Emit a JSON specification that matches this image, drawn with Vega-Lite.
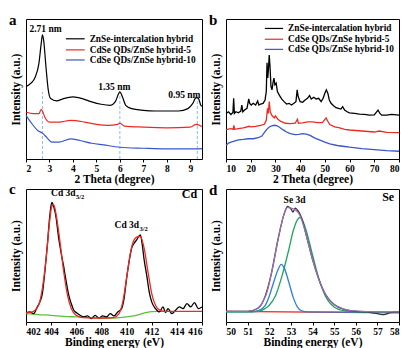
{
"$schema": "https://vega.github.io/schema/vega-lite/v6.json",
"background": "white",
"padding": {"left": 8, "top": 12, "right": 4, "bottom": 2},
"config": {
 "view": {"stroke": "black", "strokeWidth": 1},
 "font": "Liberation Serif",
 "axis": {"labelFont": "Liberation Serif", "labelFontWeight": "bold", "labelFontSize": 9.5, "labelColor": "black", "titleFont": "Liberation Serif", "titleFontWeight": "bold", "titleFontSize": 11.5, "titleColor": "black", "tickColor": "black", "grid": false},
 "axisY": {"labels": false, "ticks": false, "domain": false, "titlePadding": 5},
 "axisX": {"domain": false, "tickSize": 3, "labelPadding": 1, "titlePadding": 1},
 "text": {"font": "Liberation Serif", "fontWeight": "bold", "color": "black"},
 "title": {"font": "Liberation Serif", "fontWeight": "bold", "fontSize": 15, "anchor": "start", "frame": "group", "offset": -9, "color": "black"}
},
"resolve": {"scale": {"color": "independent"}},
"datasets": {
 "aLines": [
  {"s":"k","x":2.0,"v":215},{"s":"k","x":2.2,"v":225},{"s":"k","x":2.4,"v":245},{"s":"k","x":2.55,"v":285},{"s":"k","x":2.65,"v":345},{"s":"k","x":2.7,"v":370},{"s":"k","x":2.75,"v":355},{"s":"k","x":2.85,"v":275},{"s":"k","x":2.95,"v":205},{"s":"k","x":3.05,"v":180},{"s":"k","x":3.3,"v":173},{"s":"k","x":3.6,"v":180},{"s":"k","x":4.0,"v":185},{"s":"k","x":4.4,"v":180},{"s":"k","x":4.8,"v":170},{"s":"k","x":5.2,"v":163},{"s":"k","x":5.6,"v":160},{"s":"k","x":5.8,"v":170},{"s":"k","x":5.95,"v":195},{"s":"k","x":6.0,"v":200},{"s":"k","x":6.1,"v":187},{"s":"k","x":6.25,"v":160},{"s":"k","x":6.5,"v":150},{"s":"k","x":7.0,"v":145},{"s":"k","x":7.5,"v":143},{"s":"k","x":8.0,"v":143},{"s":"k","x":8.5,"v":143},{"s":"k","x":8.9,"v":150},{"s":"k","x":9.1,"v":165},{"s":"k","x":9.25,"v":183},{"s":"k","x":9.35,"v":180},{"s":"k","x":9.45,"v":160},{"s":"k","x":9.5,"v":157},
  {"s":"r","x":2.0,"v":140},{"s":"r","x":2.3,"v":135},{"s":"r","x":2.55,"v":135},{"s":"r","x":2.65,"v":148},{"s":"r","x":2.7,"v":143},{"s":"r","x":2.8,"v":125},{"s":"r","x":3.0,"v":110},{"s":"r","x":3.4,"v":110},{"s":"r","x":3.9,"v":115},{"s":"r","x":4.5,"v":110},{"s":"r","x":5.0,"v":103},{"s":"r","x":5.5,"v":100},{"s":"r","x":5.9,"v":103},{"s":"r","x":6.0,"v":107},{"s":"r","x":6.2,"v":98},{"s":"r","x":7.0,"v":95},{"s":"r","x":8.0,"v":93},{"s":"r","x":9.0,"v":95},{"s":"r","x":9.25,"v":103},{"s":"r","x":9.5,"v":97},
  {"s":"b","x":2.0,"v":130},{"s":"b","x":2.2,"v":110},{"s":"b","x":2.5,"v":85},{"s":"b","x":2.7,"v":77},{"s":"b","x":2.9,"v":63},{"s":"b","x":3.1,"v":50},{"s":"b","x":3.4,"v":50},{"s":"b","x":3.9,"v":60},{"s":"b","x":4.3,"v":55},{"s":"b","x":4.8,"v":47},{"s":"b","x":5.3,"v":42},{"s":"b","x":6.0,"v":35},{"s":"b","x":7.0,"v":32},{"s":"b","x":8.0,"v":30},{"s":"b","x":9.0,"v":30},{"s":"b","x":9.5,"v":31}
 ],
 "aDash": [{"x":2.7,"v":0,"ve":200},{"x":6.0,"v":0,"ve":195},{"x":9.3,"v":0,"ve":178}],
 "aLegend": [
  {"s":"k","x":3.7,"xe":4.5,"v":358,"t":"ZnSe-intercalation hybrid"},
  {"s":"r","x":3.7,"xe":4.5,"v":325,"t":"CdSe QDs/ZnSe hybrid-5"},
  {"s":"b","x":3.7,"xe":4.5,"v":295,"t":"CdSe QDs/ZnSe hybrid-10"}
 ],
 "aText": [{"x":2.83,"v":377,"t":"2.71 nm"},{"x":5.76,"v":205,"t":"1.35 nm"},{"x":8.75,"v":183,"t":"0.95 nm"}],
 "bLines": [
  {"s":"k","x":10,"v":135},{"s":"k","x":11,"v":140},{"s":"k","x":12,"v":132},{"s":"k","x":12.8,"v":138},{"s":"k","x":13.1,"v":180},{"s":"k","x":13.4,"v":135},{"s":"k","x":14,"v":140},{"s":"k","x":15,"v":137},{"s":"k","x":16,"v":142},{"s":"k","x":16.4,"v":160},{"s":"k","x":16.8,"v":140},{"s":"k","x":17.5,"v":145},{"s":"k","x":18.5,"v":150},{"s":"k","x":19.2,"v":178},{"s":"k","x":19.6,"v":165},{"s":"k","x":20.2,"v":160},{"s":"k","x":21,"v":165},{"s":"k","x":22,"v":160},{"s":"k","x":22.8,"v":172},{"s":"k","x":23.3,"v":160},{"s":"k","x":24,"v":163},{"s":"k","x":25,"v":165},{"s":"k","x":25.8,"v":175},{"s":"k","x":26.3,"v":200},{"s":"k","x":26.6,"v":285},{"s":"k","x":26.9,"v":240},{"s":"k","x":27.2,"v":270},{"s":"k","x":27.5,"v":308},{"s":"k","x":27.8,"v":275},{"s":"k","x":28.2,"v":215},{"s":"k","x":28.6,"v":205},{"s":"k","x":29.0,"v":225},{"s":"k","x":29.4,"v":240},{"s":"k","x":29.8,"v":220},{"s":"k","x":30.3,"v":225},{"s":"k","x":30.8,"v":200},{"s":"k","x":31.5,"v":190},{"s":"k","x":32.5,"v":178},{"s":"k","x":33.5,"v":170},{"s":"k","x":34.5,"v":163},{"s":"k","x":35.5,"v":165},{"s":"k","x":36.5,"v":160},{"s":"k","x":37.5,"v":165},{"s":"k","x":38.3,"v":170},{"s":"k","x":38.8,"v":205},{"s":"k","x":39.2,"v":185},{"s":"k","x":40,"v":170},{"s":"k","x":41,"v":168},{"s":"k","x":42,"v":175},{"s":"k","x":43,"v":180},{"s":"k","x":43.8,"v":188},{"s":"k","x":44.5,"v":178},{"s":"k","x":45.5,"v":183},{"s":"k","x":46.5,"v":178},{"s":"k","x":47.5,"v":180},{"s":"k","x":48.5,"v":170},{"s":"k","x":49.3,"v":180},{"s":"k","x":50,"v":195},{"s":"k","x":50.6,"v":205},{"s":"k","x":51.2,"v":195},{"s":"k","x":51.8,"v":175},{"s":"k","x":52.5,"v":165},{"s":"k","x":53.5,"v":158},{"s":"k","x":54.5,"v":152},{"s":"k","x":55.5,"v":150},{"s":"k","x":56.5,"v":148},{"s":"k","x":57.2,"v":155},{"s":"k","x":58,"v":145},{"s":"k","x":59,"v":140},{"s":"k","x":60,"v":137},{"s":"k","x":62,"v":135},{"s":"k","x":64,"v":133},{"s":"k","x":66,"v":132},{"s":"k","x":68,"v":130},{"s":"k","x":70,"v":131},{"s":"k","x":71.5,"v":145},{"s":"k","x":72.3,"v":135},{"s":"k","x":73,"v":130},{"s":"k","x":75,"v":130},{"s":"k","x":77,"v":132},{"s":"k","x":79,"v":131},{"s":"k","x":80,"v":130},
  {"s":"r","x":10,"v":87},{"s":"r","x":12,"v":90},{"s":"r","x":12.9,"v":88},{"s":"r","x":13.2,"v":100},{"s":"r","x":13.5,"v":88},{"s":"r","x":15,"v":90},{"s":"r","x":17,"v":92},{"s":"r","x":19.5,"v":97},{"s":"r","x":20,"v":95},{"s":"r","x":22,"v":97},{"s":"r","x":24,"v":100},{"s":"r","x":25.5,"v":103},{"s":"r","x":26.3,"v":115},{"s":"r","x":26.8,"v":150},{"s":"r","x":27.1,"v":135},{"s":"r","x":27.5,"v":170},{"s":"r","x":27.9,"v":140},{"s":"r","x":28.5,"v":130},{"s":"r","x":29.5,"v":122},{"s":"r","x":30,"v":128},{"s":"r","x":31,"v":118},{"s":"r","x":32,"v":112},{"s":"r","x":34,"v":106},{"s":"r","x":36,"v":105},{"s":"r","x":38,"v":106},{"s":"r","x":38.9,"v":118},{"s":"r","x":39.3,"v":106},{"s":"r","x":41,"v":107},{"s":"r","x":43,"v":110},{"s":"r","x":45,"v":110},{"s":"r","x":47,"v":108},{"s":"r","x":49,"v":108},{"s":"r","x":50.5,"v":122},{"s":"r","x":51.2,"v":112},{"s":"r","x":52,"v":102},{"s":"r","x":54,"v":95},{"s":"r","x":56,"v":92},{"s":"r","x":58,"v":88},{"s":"r","x":60,"v":86},{"s":"r","x":65,"v":83},{"s":"r","x":70,"v":80},{"s":"r","x":72,"v":83},{"s":"r","x":75,"v":79},{"s":"r","x":80,"v":78},
  {"s":"b","x":10,"v":40},{"s":"b","x":11,"v":47},{"s":"b","x":12,"v":50},{"s":"b","x":13,"v":52},{"s":"b","x":15,"v":57},{"s":"b","x":17,"v":58},{"s":"b","x":19,"v":60},{"s":"b","x":21,"v":60},{"s":"b","x":23,"v":63},{"s":"b","x":24.5,"v":68},{"s":"b","x":25.5,"v":78},{"s":"b","x":26.5,"v":88},{"s":"b","x":27.5,"v":95},{"s":"b","x":28.5,"v":98},{"s":"b","x":29.5,"v":100},{"s":"b","x":30.5,"v":99},{"s":"b","x":31.5,"v":95},{"s":"b","x":33,"v":87},{"s":"b","x":34.5,"v":80},{"s":"b","x":36,"v":75},{"s":"b","x":38,"v":72},{"s":"b","x":39.5,"v":73},{"s":"b","x":41,"v":75},{"s":"b","x":42.5,"v":74},{"s":"b","x":44,"v":70},{"s":"b","x":46,"v":62},{"s":"b","x":48,"v":56},{"s":"b","x":50,"v":50},{"s":"b","x":52,"v":45},{"s":"b","x":55,"v":40},{"s":"b","x":58,"v":37},{"s":"b","x":60,"v":35},{"s":"b","x":65,"v":31},{"s":"b","x":70,"v":28},{"s":"b","x":75,"v":25},{"s":"b","x":80,"v":23}
 ],
 "bLegend": [
  {"s":"k","x":25.7,"xe":33.1,"v":387,"t":"ZnSe-intercalation hybrid"},
  {"s":"r","x":25.7,"xe":33.1,"v":355,"t":"CdSe QDs/ZnSe hybrid-5"},
  {"s":"b","x":25.7,"xe":33.1,"v":325,"t":"CdSe QDs/ZnSe hybrid-10"}
 ],
 "cLines": [
  {"s":"g","x":402,"v":25},{"s":"g","x":403,"v":22},{"s":"g","x":404,"v":20},{"s":"g","x":405,"v":17},{"s":"g","x":406,"v":15},{"s":"g","x":407,"v":13},{"s":"g","x":408,"v":12},{"s":"g","x":409,"v":12},{"s":"g","x":410,"v":15},{"s":"g","x":411,"v":22},{"s":"g","x":411.5,"v":28},{"s":"g","x":412,"v":31},{"s":"g","x":412.5,"v":32},{"s":"g","x":413,"v":32},
  {"s":"k","x":402,"v":27},{"s":"k","x":402.3,"v":30},{"s":"k","x":402.6,"v":25},{"s":"k","x":402.9,"v":45},{"s":"k","x":403.1,"v":60},{"s":"k","x":403.3,"v":85},{"s":"k","x":403.5,"v":150},{"s":"k","x":403.7,"v":230},{"s":"k","x":403.9,"v":320},{"s":"k","x":404.05,"v":357},{"s":"k","x":404.2,"v":345},{"s":"k","x":404.4,"v":310},{"s":"k","x":404.6,"v":250},{"s":"k","x":404.8,"v":205},{"s":"k","x":405.0,"v":165},{"s":"k","x":405.2,"v":120},{"s":"k","x":405.4,"v":80},{"s":"k","x":405.6,"v":55},{"s":"k","x":405.8,"v":35},{"s":"k","x":406.0,"v":28},{"s":"k","x":406.3,"v":20},{"s":"k","x":406.6,"v":15},{"s":"k","x":406.9,"v":18},{"s":"k","x":407.2,"v":10},{"s":"k","x":407.5,"v":20},{"s":"k","x":407.8,"v":12},{"s":"k","x":408.1,"v":18},{"s":"k","x":408.4,"v":15},{"s":"k","x":408.7,"v":25},{"s":"k","x":409.0,"v":18},{"s":"k","x":409.3,"v":30},{"s":"k","x":409.6,"v":40},{"s":"k","x":409.8,"v":70},{"s":"k","x":410.0,"v":130},{"s":"k","x":410.2,"v":180},{"s":"k","x":410.4,"v":220},{"s":"k","x":410.6,"v":235},{"s":"k","x":410.8,"v":245},{"s":"k","x":410.95,"v":255},{"s":"k","x":411.1,"v":260},{"s":"k","x":411.25,"v":230},{"s":"k","x":411.4,"v":185},{"s":"k","x":411.6,"v":140},{"s":"k","x":411.8,"v":90},{"s":"k","x":412.0,"v":60},{"s":"k","x":412.3,"v":40},{"s":"k","x":412.6,"v":30},{"s":"k","x":412.9,"v":45},{"s":"k","x":413.1,"v":28},{"s":"k","x":413.3,"v":40},{"s":"k","x":413.6,"v":25},{"s":"k","x":413.9,"v":35},{"s":"k","x":414.2,"v":45},{"s":"k","x":414.5,"v":40},{"s":"k","x":414.8,"v":55},{"s":"k","x":415.1,"v":45},{"s":"k","x":415.4,"v":58},{"s":"k","x":415.7,"v":40},{"s":"k","x":416,"v":45},
  {"s":"r","x":402,"v":27},{"s":"r","x":402.5,"v":30},{"s":"r","x":403.0,"v":50},{"s":"r","x":403.3,"v":100},{"s":"r","x":403.6,"v":190},{"s":"r","x":403.85,"v":290},{"s":"r","x":404.05,"v":345},{"s":"r","x":404.2,"v":350},{"s":"r","x":404.4,"v":320},{"s":"r","x":404.7,"v":240},{"s":"r","x":405.0,"v":150},{"s":"r","x":405.3,"v":80},{"s":"r","x":405.6,"v":40},{"s":"r","x":406.0,"v":20},{"s":"r","x":406.5,"v":13},{"s":"r","x":407.5,"v":12},{"s":"r","x":408.5,"v":12},{"s":"r","x":409.0,"v":14},{"s":"r","x":409.4,"v":25},{"s":"r","x":409.7,"v":60},{"s":"r","x":410.0,"v":130},{"s":"r","x":410.3,"v":205},{"s":"r","x":410.6,"v":245},{"s":"r","x":410.9,"v":255},{"s":"r","x":411.1,"v":255},{"s":"r","x":411.4,"v":220},{"s":"r","x":411.7,"v":150},{"s":"r","x":412.0,"v":85},{"s":"r","x":412.3,"v":50},{"s":"r","x":412.6,"v":36},{"s":"r","x":413,"v":32},{"s":"r","x":414,"v":32},{"s":"r","x":416,"v":32}
 ],
 "cMain": [{"x":405.95,"v":377,"t":"Cd 3d"},{"x":411.0,"v":280,"t":"Cd 3d"}],
 "cSub": [{"x":405.98,"v":368,"t":"5/2"},{"x":411.03,"v":271,"t":"3/2"}],
 "cBig": [{"x":415.0,"v":369,"t":"Cd"}],
 "dLines": [
  {"s":"r","x":50,"v":32},{"s":"r","x":58,"v":27},
  {"s":"b","x":50,"v":30},{"s":"b","x":51,"v":30},{"s":"b","x":51.5,"v":34},{"s":"b","x":51.8,"v":48},{"s":"b","x":52.0,"v":77},{"s":"b","x":52.2,"v":118},{"s":"b","x":52.4,"v":155},{"s":"b","x":52.55,"v":172},{"s":"b","x":52.7,"v":160},{"s":"b","x":52.9,"v":120},{"s":"b","x":53.1,"v":75},{"s":"b","x":53.3,"v":45},{"s":"b","x":53.5,"v":33},{"s":"b","x":53.8,"v":30},{"s":"b","x":58,"v":29},
  {"s":"g","x":50,"v":30},{"s":"g","x":51,"v":30},{"s":"g","x":51.5,"v":32},{"s":"g","x":51.8,"v":40},{"s":"g","x":52.0,"v":50},{"s":"g","x":52.3,"v":80},{"s":"g","x":52.6,"v":140},{"s":"g","x":52.9,"v":215},{"s":"g","x":53.1,"v":270},{"s":"g","x":53.3,"v":305},{"s":"g","x":53.4,"v":312},{"s":"g","x":53.5,"v":308},{"s":"g","x":53.7,"v":275},{"s":"g","x":54.0,"v":200},{"s":"g","x":54.3,"v":128},{"s":"g","x":54.6,"v":77},{"s":"g","x":55.0,"v":45},{"s":"g","x":55.5,"v":33},{"s":"g","x":56,"v":30},{"s":"g","x":58,"v":29},
  {"s":"k","x":50,"v":32},{"s":"k","x":51,"v":32},{"s":"k","x":51.5,"v":42},{"s":"k","x":51.8,"v":75},{"s":"k","x":52.1,"v":145},{"s":"k","x":52.4,"v":245},{"s":"k","x":52.7,"v":325},{"s":"k","x":52.85,"v":345},{"s":"k","x":53.0,"v":338},{"s":"k","x":53.1,"v":328},{"s":"k","x":53.2,"v":340},{"s":"k","x":53.35,"v":330},{"s":"k","x":53.5,"v":310},{"s":"k","x":53.7,"v":262},{"s":"k","x":54.0,"v":187},{"s":"k","x":54.5,"v":95},{"s":"k","x":55,"v":52},{"s":"k","x":55.5,"v":37},{"s":"k","x":56,"v":32},{"s":"k","x":56.5,"v":30},{"s":"k","x":57,"v":25},{"s":"k","x":57.3,"v":22},{"s":"k","x":57.6,"v":28},{"s":"k","x":58,"v":30},
  {"s":"p","x":50,"v":32},{"s":"p","x":51,"v":32},{"s":"p","x":51.4,"v":38},{"s":"p","x":51.7,"v":60},{"s":"p","x":51.9,"v":90},{"s":"p","x":52.1,"v":145},{"s":"p","x":52.3,"v":210},{"s":"p","x":52.5,"v":275},{"s":"p","x":52.7,"v":325},{"s":"p","x":52.85,"v":342},{"s":"p","x":53.0,"v":340},{"s":"p","x":53.2,"v":335},{"s":"p","x":53.4,"v":320},{"s":"p","x":53.6,"v":285},{"s":"p","x":53.8,"v":237},{"s":"p","x":54.0,"v":187},{"s":"p","x":54.3,"v":127},{"s":"p","x":54.6,"v":82},{"s":"p","x":55.0,"v":52},{"s":"p","x":55.5,"v":38},{"s":"p","x":56,"v":33},{"s":"p","x":57,"v":30},{"s":"p","x":58,"v":30}
 ],
 "dText": [{"x":53.17,"v":355,"t":"Se 3d"}],
 "dBig": [{"x":57.5,"v":360,"t":"Se"}]
},
"columns": 2,
"spacing": {"row": 30, "column": 24},
"bounds": "flush",
"concat": [
  {"width": 176, "height": 140,
   "title": {"text": "a", "dx": -17},
   "encoding": {
    "x": {"field": "x", "type": "quantitative", "scale": {"domain": [2, 9.5], "nice": false}, "axis": {"values": [2,3,4,5,6,7,8,9]}, "title": "2 Theta (degree)"},
    "y": {"field": "v", "type": "quantitative", "scale": {"domain": [0, 417], "nice": false}, "title": "Intensity (a.u.)"}
   },
   "layer": [
    {"data": {"name": "aDash"}, "mark": {"type": "rule", "strokeDash": [3, 2], "color": "#8dbbe8", "strokeWidth": 1}, "encoding": {"y2": {"field": "ve"}}},
    {"data": {"name": "aLines"}, "mark": {"type": "line", "strokeWidth": 1.2, "interpolate": "monotone"}, "encoding": {"color": {"field": "s", "type": "nominal", "scale": {"domain": ["k","r","b"], "range": ["#000000","#ec2a22","#3a56c8"]}, "legend": null}}},
    {"data": {"name": "aLegend"}, "mark": {"type": "rule", "strokeWidth": 1.2}, "encoding": {"x2": {"field": "xe"}, "color": {"field": "s", "type": "nominal", "legend": null}}},
    {"data": {"name": "aLegend"}, "mark": {"type": "text", "align": "left", "baseline": "middle", "fontSize": 9.3, "dx": 5}, "encoding": {"x": {"field": "xe", "type": "quantitative"}, "text": {"field": "t"}}},
    {"data": {"name": "aText"}, "mark": {"type": "text", "align": "center", "baseline": "alphabetic", "fontSize": 9.5}, "encoding": {"text": {"field": "t"}}}
   ]
  },
  {"width": 173, "height": 140,
   "title": {"text": "b", "dx": -17},
   "encoding": {
    "x": {"field": "x", "type": "quantitative", "scale": {"domain": [10, 80], "nice": false}, "axis": {"values": [10,20,30,40,50,60,70,80]}, "title": "2 Theta (degree)"},
    "y": {"field": "v", "type": "quantitative", "scale": {"domain": [0, 415], "nice": false}, "title": "Intensity (a.u.)"}
   },
   "layer": [
    {"data": {"name": "bLines"}, "mark": {"type": "line", "strokeWidth": 1.3}, "encoding": {"color": {"field": "s", "type": "nominal", "scale": {"domain": ["k","r","b"], "range": ["#000000","#ec2a22","#3a56c8"]}, "legend": null}}},
    {"data": {"name": "bLegend"}, "mark": {"type": "rule", "strokeWidth": 1.2}, "encoding": {"x2": {"field": "xe"}, "color": {"field": "s", "type": "nominal", "legend": null}}},
    {"data": {"name": "bLegend"}, "mark": {"type": "text", "align": "left", "baseline": "middle", "fontSize": 9.3, "dx": 5}, "encoding": {"x": {"field": "xe", "type": "quantitative"}, "text": {"field": "t"}}}
   ]
  },
  {"width": 176, "height": 133,
   "title": {"text": "c", "dx": -17},
   "encoding": {
    "x": {"field": "x", "type": "quantitative", "scale": {"domain": [402, 416], "nice": false}, "axis": {"values": [402,404,406,408,410,412,414,416]}, "title": "Binding energy (eV)"},
    "y": {"field": "v", "type": "quantitative", "scale": {"domain": [0, 397], "nice": false}, "title": "Intensity (a.u.)"}
   },
   "layer": [
    {"data": {"name": "cLines"}, "mark": {"type": "line", "strokeWidth": 1.3, "interpolate": "monotone"}, "encoding": {"color": {"field": "s", "type": "nominal", "scale": {"domain": ["g","k","r"], "range": ["#5cbf3c","#000000","#ec2a22"]}, "legend": null}}},
    {"data": {"name": "cMain"}, "mark": {"type": "text", "align": "right", "baseline": "alphabetic", "fontSize": 9.5}, "encoding": {"text": {"field": "t"}}},
    {"data": {"name": "cSub"}, "mark": {"type": "text", "align": "left", "baseline": "alphabetic", "fontSize": 6.5}, "encoding": {"text": {"field": "t"}}},
    {"data": {"name": "cBig"}, "mark": {"type": "text", "align": "center", "baseline": "alphabetic", "fontSize": 12}, "encoding": {"text": {"field": "t"}}}
   ]
  },
  {"width": 173, "height": 133,
   "title": {"text": "d", "dx": -17},
   "encoding": {
    "x": {"field": "x", "type": "quantitative", "scale": {"domain": [50, 58], "nice": false}, "axis": {"values": [50,51,52,53,54,55,56,57,58]}, "title": "Binding energy (eV)"},
    "y": {"field": "v", "type": "quantitative", "scale": {"domain": [0, 397], "nice": false}, "title": "Intensity (a.u.)"}
   },
   "layer": [
    {"data": {"name": "dLines"}, "mark": {"type": "line", "strokeWidth": 1.3, "interpolate": "monotone"}, "encoding": {"color": {"field": "s", "type": "nominal", "scale": {"domain": ["r","b","g","k","p"], "range": ["#e8261f","#2f7fd4","#1fa35f","#333333","#9c6db6"]}, "legend": null}}},
    {"data": {"name": "dText"}, "mark": {"type": "text", "align": "center", "baseline": "alphabetic", "fontSize": 9.5}, "encoding": {"text": {"field": "t"}}},
    {"data": {"name": "dBig"}, "mark": {"type": "text", "align": "center", "baseline": "alphabetic", "fontSize": 12}, "encoding": {"text": {"field": "t"}}}
   ]
  }
]
}
